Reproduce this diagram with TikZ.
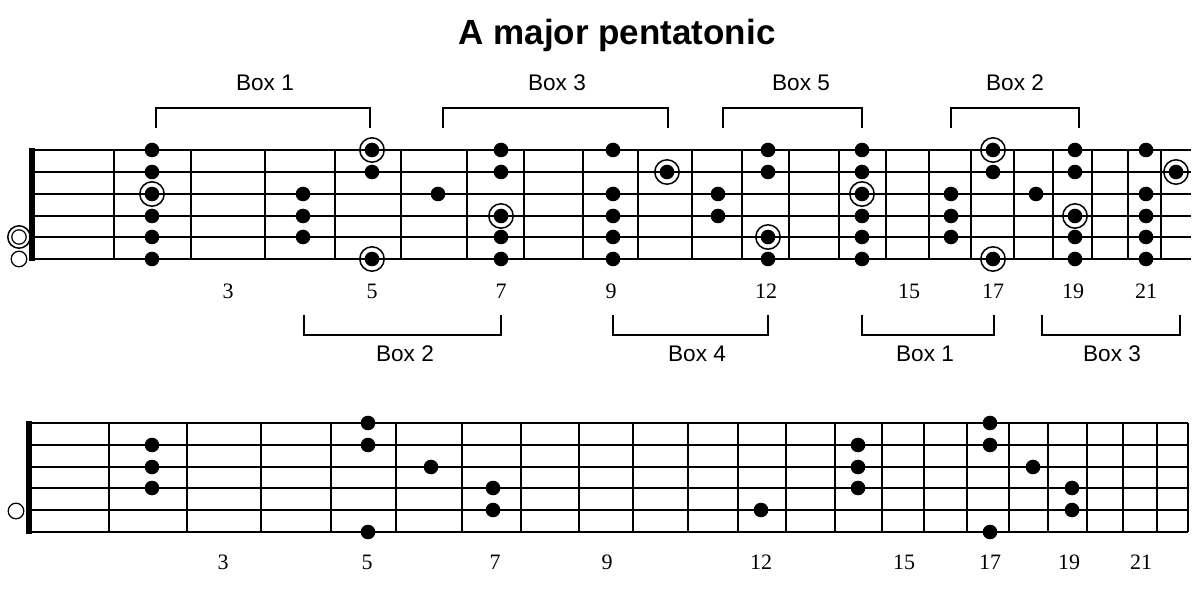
\documentclass[tikz,border=0pt]{standalone}
\usepackage{fontspec}
\setmainfont{Liberation Serif}
\setsansfont{Liberation Sans}
\begin{document}
\begin{tikzpicture}[x=0.5pt,y=-0.5pt,
        string/.style={line width=0.95pt},
        fret/.style={line width=1.25pt},
        nut/.style={line width=2.6pt},
        bracket/.style={line width=0.6pt},
        ring/.style={line width=0.75pt},
        fretnum/.style={font=\fontsize{11}{13}\selectfont},
        boxlabel/.style={font=\sffamily\fontsize{11.3}{13}\selectfont}]
    \useasboundingbox (0,0) rectangle (1200,593);

    \node[font=\sffamily\bfseries\fontsize{17.5}{20}\selectfont] (title) at (617,35) {A major pentatonic};

    % Upper neck
    \foreach \y in {150,172,194,216,237,259}
        \draw[string] (33,\y) -- (1191,\y);
    \foreach \x in {114,191,265,335,401,467,524,583,638,692,742,789,839,886,929,971,1014,1053,1092,1128,1161}
        \draw[fret] (\x,150) -- (\x,259);
    \draw[nut] (32,148) -- (32,261);

    \foreach \x/\y in {152/150,152/172,152/216,152/237,152/259,
            303/194,303/216,303/237, 372/172, 438/194,
            501/150,501/172,501/237,501/259,
            613/150,613/194,613/216,613/237,613/259,
            718/194,718/216, 768/150,768/172,768/259,
            862/150,862/172,862/216,862/237,862/259,
            951/194,951/216,951/237, 993/172, 1036/194,
            1075/150,1075/172,1075/237,1075/259,
            1146/150,1146/194,1146/216,1146/237,1146/259}
        \fill (\x,\y) circle (3.65pt);
    % Roots
    \foreach \x/\y in {152/194,372/150,372/259,501/216,667/172,768/237,
            862/194,993/150,993/259,1075/216,1176/172}
    {
        \fill (\x,\y) circle (3.65pt);
        \draw[ring] (\x,\y) circle (6.1pt);
    }
    \draw[ring] (19,237) circle (5.6pt);
    \draw[line width=0.6pt] (19,237) circle (3.6pt);
    \draw[line width=0.6pt] (19,259) circle (3.9pt);

    \foreach \x/\n in {228/3,372/5,501/7,611/9,766/12,909/15,993/17,1073/19,1146/21}
        \node[fretnum] (up\n) at (\x,291) {\n};

    % Boxes above
    \draw[bracket] (156,128) -- (156,108) -- (370,108) -- (370,128);
    \draw[bracket] (443,128) -- (443,108) -- (668,108) -- (668,128);
    \draw[bracket] (723,128) -- (723,108) -- (862,108) -- (862,128);
    \draw[bracket] (951,128) -- (951,108) -- (1079,108) -- (1079,128);
    \node[boxlabel] (boxa) at (265,83) {Box 1};
    \node[boxlabel] (boxc) at (557,83) {Box 3};
    \node[boxlabel] (boxe) at (801,83) {Box 5};
    \node[boxlabel] (boxb) at (1015,83) {Box 2};

    % Boxes below
    \draw[bracket] (304,315) -- (304,335) -- (501,335) -- (501,315);
    \draw[bracket] (613,315) -- (613,335) -- (768,335) -- (768,315);
    \draw[bracket] (862,315) -- (862,335) -- (994,335) -- (994,315);
    \draw[bracket] (1042,315) -- (1042,335) -- (1180,335) -- (1180,315);
    \node[boxlabel] (lowb) at (405,354) {Box 2};
    \node[boxlabel] (lowd) at (697,354) {Box 4};
    \node[boxlabel] (lowa) at (925,354) {Box 1};
    \node[boxlabel] (lowc) at (1112,354) {Box 3};

    % Lower neck
    \foreach \y in {423,445,467,488,510,532}
        \draw[string] (29,\y) -- (1188,\y);
    \foreach \x in {109,187,261,331,396,462,521,579,633,688,738,786,835,882,924,967,1009,1048,1087,1123,1157,1188}
        \draw[fret] (\x,423) -- (\x,532);
    \draw[nut] (29,421) -- (29,534);

    \foreach \x/\y in {152/445,152/467,152/488, 368/423,368/445,368/532,
            431/467, 493/488,493/510, 761/510, 858/445,858/467,858/488,
            990/423,990/445,990/532, 1033/467, 1072/488,1072/510}
        \fill (\x,\y) circle (3.65pt);
    \draw[line width=0.6pt] (16,511) circle (3.9pt);

    \foreach \x/\n in {223/3,367/5,495/7,607/9,761/12,904/15,990/17,1069/19,1141/21}
        \node[fretnum] (lo\n) at (\x,562) {\n};
\end{tikzpicture}
\end{document}
